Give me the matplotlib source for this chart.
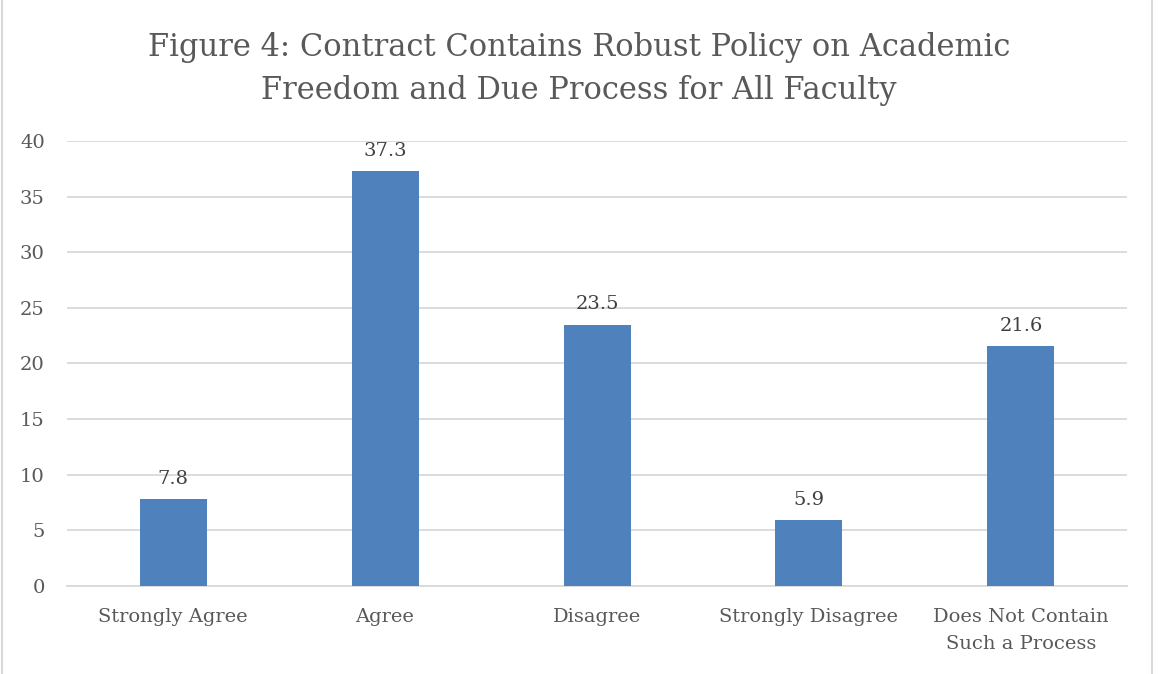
import matplotlib
matplotlib.use("Agg")
import matplotlib.pyplot as plt
from matplotlib.patches import Rectangle

categories = ["Strongly Agree", "Agree", "Disagree", "Strongly Disagree",
              "Does Not Contain\nSuch a Process"]
values = [7.8, 37.3, 23.5, 5.9, 21.6]
yticks = [0, 5, 10, 15, 20, 25, 30, 35, 40]
title = "Figure 4: Contract Contains Robust Policy on Academic\nFreedom and Due Process for All Faculty"

plt.rcParams["font.family"] = ["DejaVu Serif"]
text_color = "#595959"
bar_color = "#4F81BD"
grid_color = "#D9D9D9"

fig = plt.figure(figsize=(11.58, 6.74), dpi=100)
ax = fig.add_axes([0.0579, 0.1306, 0.9153, 0.6602])

x = list(range(len(categories)))
bars = ax.bar(x, values, width=0.316, color=bar_color, zorder=3)
for rect, v in zip(bars, values):
    ax.annotate(f"{v:.1f}", (rect.get_x() + rect.get_width() / 2, v),
                xytext=(0, 8), textcoords="offset points",
                ha="center", va="bottom", fontsize=14, color="#404040")

ax.set_xlim(-0.5, len(categories) - 0.5)
ax.set_ylim(0, 40)
ax.set_yticks(yticks)
ax.set_xticks(x)
ax.set_xticklabels(categories, fontsize=14, color=text_color, linespacing=1.6)
ax.tick_params(axis="y", labelsize=14, labelcolor=text_color, length=0, pad=16)
ax.tick_params(axis="x", length=0, pad=16)
for lbl in ax.get_yticklabels():
    lbl.set_horizontalalignment("right")
ax.grid(axis="y", color=grid_color, linewidth=1.3, zorder=0)
for side in ["top", "right", "left"]:
    ax.spines[side].set_visible(False)
ax.spines["bottom"].set_color(grid_color)
ax.spines["bottom"].set_linewidth(1.3)

fig.text(0.5, 0.897, title, ha="center", va="center", fontsize=22,
         color=text_color, linespacing=1.5)

# light frame around the chart area
fig.add_artist(Rectangle((0.002, -0.01), 0.9925, 1.02, transform=fig.transFigure,
                         fill=False, edgecolor="#D9D9D9", linewidth=1.5))

fig.savefig("out.png", dpi=100)
